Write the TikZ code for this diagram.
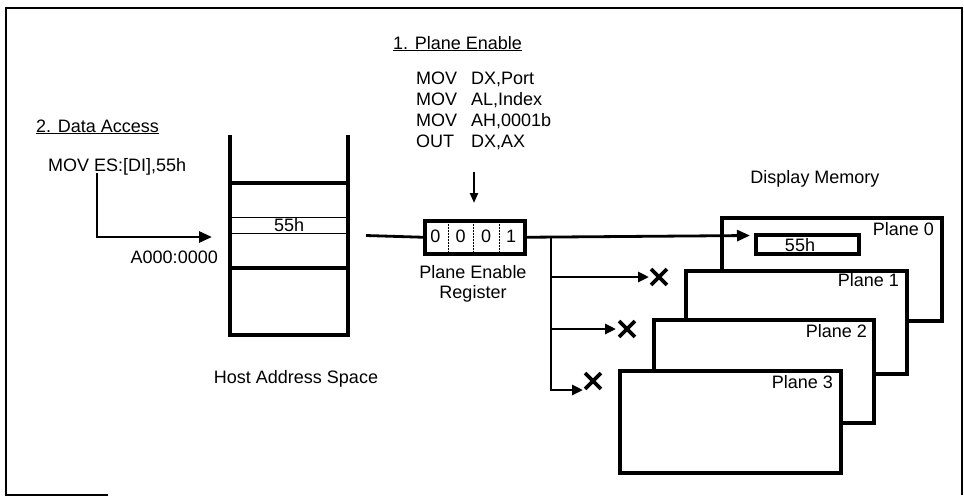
\documentclass[tikz,border=0pt]{standalone}
\usepackage{fontspec}
\setmainfont{Liberation Sans}
\usetikzlibrary{arrows.meta,shapes.misc}
\begin{document}
\begin{tikzpicture}[x=1pt,y=-1pt,
  txt/.style={font=\fontsize{18}{21}\selectfont, inner sep=0pt},
  heavy/.style={line width=3.5pt},
  conn/.style={line width=2.8pt},
  arr/.style={line width=2.8pt, -{Triangle[length=13pt,width=11pt]}},
  sarr/.style={line width=2.8pt, -{Triangle[length=11pt,width=10pt]}},
  planebox/.style={draw, fill=white, line width=3.5pt, anchor=north west, inner sep=0pt},
  xmark/.style={cross out, draw, line width=3.8pt, minimum size=12pt, inner sep=0pt}
]
\useasboundingbox (0,0) rectangle (964,496);
% frame
\draw[line width=1.5pt] (108,495) -- (6,495) -- (6,8) -- (962,8) -- (962,495);

% ---- Data access
\node[txt, anchor=base west] (da) at (36,132) {\underline{2. Data Access}};
\node[txt, anchor=base west] (mov) at (48,171) {MOV ES:[DI],55h};
\node[txt, anchor=base east] (addr) at (218,263) {A000:0000};
\coordinate (da0) at (97,173);
\coordinate (da1) at (212,237);
\draw[arr] (da0) |- (da1);

% ---- Host address space
\draw[heavy] (230,135) -- (230,335) -- (348,335) -- (348,135);
\draw[heavy] (230,183) -- (348,183);
\draw[heavy] (230,268) -- (348,268);
\draw[line width=0.7pt] (230,217) -- (348,217);
\draw[line width=0.7pt] (230,233) -- (348,233);
\node[txt, anchor=base west] (hv) at (274,231) {55h};
\node[txt, anchor=base] (hlab) at (296,383) {Host Address Space};

% ---- Plane enable code
\node[txt, anchor=base west] (pe) at (393,49) {\underline{1. Plane Enable}};
\node[txt, anchor=base west] (c1) at (416,84) {\makebox[55pt][l]{MOV}DX,Port};
\node[txt, anchor=base west] (c2) at (416,105) {\makebox[55pt][l]{MOV}AL,Index};
\node[txt, anchor=base west] (c3) at (416,126) {\makebox[55pt][l]{MOV}AH,0001b};
\node[txt, anchor=base west] (c4) at (416,147) {\makebox[55pt][l]{OUT}DX,AX};
\coordinate (pa0) at (474,172);
\coordinate (pa1) at (474,203);
\draw[line width=2.2pt, -{Triangle[length=10pt,width=8pt]}] (pa0) -- (pa1);

% ---- Register
\node[draw, heavy, anchor=north west, minimum width=100pt, minimum height=33pt, inner sep=0pt] (reg) at (423,219) {};
\foreach \x in {448,473,499} \draw[line width=0.5pt, densely dotted] (\x,219) -- (\x,252);
\node[txt, anchor=base] (b3) at (435.5,242) {0};
\node[txt, anchor=base] (b2) at (460.5,242) {0};
\node[txt, anchor=base] (b1) at (486,242) {0};
\node[txt, anchor=base] (b0) at (511,242) {1};
\node[txt, anchor=base] (rl1) at (473,278) {Plane Enable};
\node[txt, anchor=base] (rl2) at (473,298) {Register};
\coordinate (hs) at (366,235.5);
\draw[conn] (hs) -- (reg.west);

% ---- Display memory
\node[txt, anchor=base] (dm) at (815,183) {Display Memory};
\node[planebox, minimum width=220pt, minimum height=103pt] (p0) at (720,216) {};
\node[planebox, minimum width=221pt, minimum height=103pt] (p1) at (684,269) {};
\node[planebox, minimum width=220pt, minimum height=103pt] (p2) at (652,318) {};
\node[planebox, minimum width=221pt, minimum height=102pt] (p3) at (618,369) {};
\node[txt, anchor=base east] (l0) at (934,235) {Plane 0};
\node[txt, anchor=base east] (l1) at (899,286) {Plane 1};
\node[txt, anchor=base east] (l2) at (867,337) {Plane 2};
\node[txt, anchor=base east] (l3) at (833,388) {Plane 3};
\node[draw, heavy, anchor=north west, minimum width=103pt, minimum height=19pt, inner sep=0pt] (cell) at (754,233) {};
\node[txt, anchor=base] (cv) at (800,251) {55h};

% ---- Connectors from register
\coordinate (t0) at (750,235.5);
\coordinate (br0) at (551,235.5);
\coordinate (br1) at (551,277);
\coordinate (br2) at (551,329);
\coordinate (t1) at (649,277);
\coordinate (t2) at (616,329);
\coordinate (t3) at (583,390);
\draw[arr] (reg.east) -- (t0);
\draw[sarr] (br0) |- (t3);
\draw[sarr] (br1) -- (t1);
\draw[sarr] (br2) -- (t2);
\node[xmark] (x1) at (659,277) {};
\node[xmark] (x2) at (627,329) {};
\node[xmark] (x3) at (593,381) {};
\end{tikzpicture}
\end{document}
